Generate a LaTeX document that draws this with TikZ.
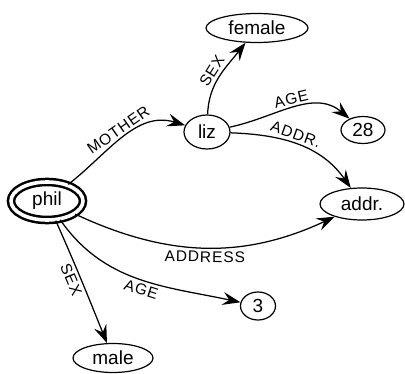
\documentclass[tikz,border=0pt]{standalone}
\usepackage{fontspec}
\setmainfont{Liberation Sans}
\newfontfamily\lblfont[LetterSpace=6]{Liberation Sans}
\usetikzlibrary{arrows.meta,shapes.geometric}

\tikzset{
  x=1pt, y=1pt,
  ent/.style={ellipse, draw, line width=1.2pt, inner sep=0pt,
              font=\fontsize{19}{19}\selectfont},
  root/.style={ent, line width=2.5pt, double=white, double distance=3.6pt},
  rel/.style={line width=1.25pt, -{Stealth[length=18pt,width=13pt,inset=6.5pt]}},
  lbl/.style={font=\lblfont\fontsize{15.5}{15.5}\selectfont, sloped, inner sep=3pt}
}

\begin{document}
\begin{tikzpicture}
\useasboundingbox (0,0) rectangle (405,373);

% entities
\node[root, minimum width=72, minimum height=38] (phil)   at (47,172)  {phil};
\node[ent, minimum width=46, minimum height=34]  (liz)    at (207,241) {liz};
\node[ent, minimum width=102, minimum height=29] (female) at (257,345) {female};
\node[ent, minimum width=44, minimum height=27]  (n28)    at (363,243) {28};
\node[ent, minimum width=84, minimum height=32]  (addr)   at (362,169) {addr.};
\node[ent, minimum width=35, minimum height=28]  (n3)     at (258,67)  {3};
\node[ent, minimum width=80, minimum height=29]  (male)   at (113,15)  {male};

% relations
\draw[rel] (phil) to[out=38,in=163] node[lbl,above,pos=0.5] {MOTHER} (liz);
\draw[rel] (liz)  to[out=88,in=232] node[lbl,above] {SEX} (female);
\draw[rel] (liz)  to[out=12,in=140] node[lbl,above] {AGE} (n28);
\draw[rel] (liz)  to[out=-2,in=125] node[lbl,above,pos=0.45] {ADDR.} (addr);
\draw[rel] (phil) to[out=-25,in=205] node[lbl,below,pos=0.5] {ADDRESS} (addr);
\draw[rel] (phil) to[out=-55,in=168] node[lbl,below,pos=0.53] {AGE} (n3);
\draw[rel] (phil) to[out=-66,in=112] node[lbl,below,pos=0.45] {SEX} (male);
\end{tikzpicture}
\end{document}
